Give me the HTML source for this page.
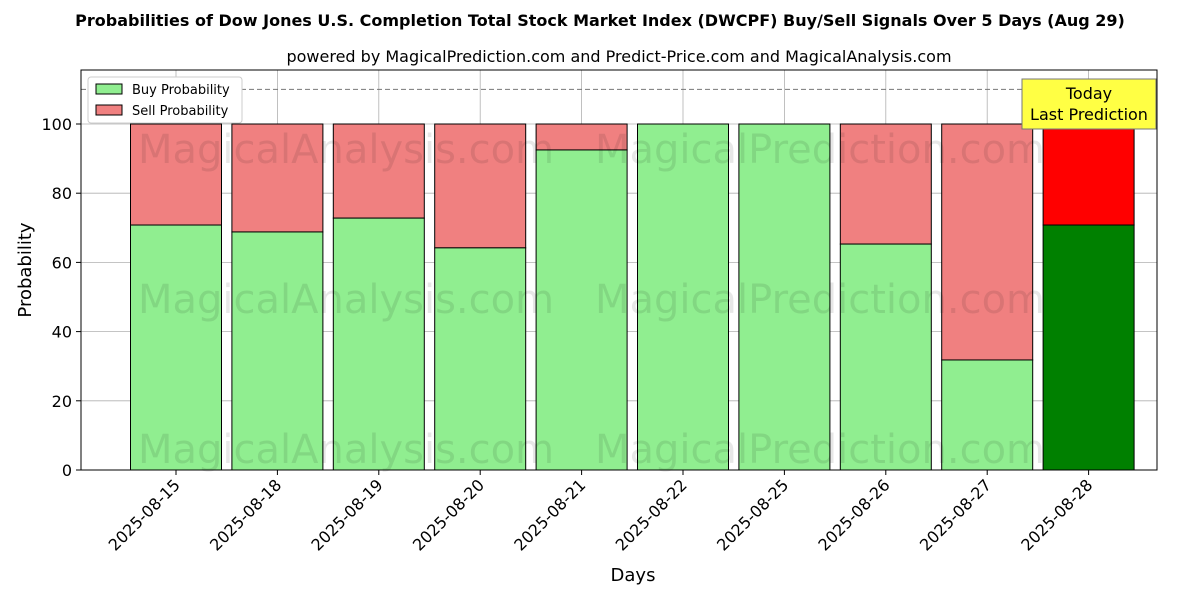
<!DOCTYPE html>
<html><head><meta charset="utf-8"><style>
body{margin:0;background:#fff;font-family:"DejaVu Sans","Liberation Sans",sans-serif;}
</style></head><body>
<svg id="chart" width="1200" height="600" xmlns="http://www.w3.org/2000/svg">
<text x="600" y="26" text-anchor="middle" font-size="16" font-weight="bold">Probabilities of Dow Jones U.S. Completion Total Stock Market Index (DWCPF) Buy/Sell Signals Over 5 Days (Aug 29)</text>
<text x="619" y="62" text-anchor="middle" font-size="16">powered by MagicalPrediction.com and Predict-Price.com and MagicalAnalysis.com</text>
<g id="grid"></g>
<g id="bars"></g>
<g id="wm" font-size="40" fill="#000" opacity="0.09" text-anchor="middle">
<text x="346" y="163">MagicalAnalysis.com</text><text x="820" y="163">MagicalPrediction.com</text>
<text x="346" y="313">MagicalAnalysis.com</text><text x="820" y="313">MagicalPrediction.com</text>
<text x="346" y="463">MagicalAnalysis.com</text><text x="820" y="463">MagicalPrediction.com</text>
</g>
<line x1="81" y1="89.4" x2="1157" y2="89.4" stroke="#777" stroke-dasharray="5,3"/>
<rect x="81" y="70" width="1076" height="400" fill="none" stroke="#000"/>
<g id="ticks"></g>
<text x="633" y="581" text-anchor="middle" font-size="18">Days</text>
<text transform="translate(31,270) rotate(-90)" text-anchor="middle" font-size="18">Probability</text>
<g>
<rect x="88" y="77" width="154" height="46" fill="#fff" stroke="#ccc" rx="3"/>
<rect x="96" y="84" width="26" height="10" fill="#90ee90" stroke="#000"/>
<text x="132" y="94" font-size="13">Buy Probability</text>
<rect x="96" y="105" width="26" height="10" fill="#f08080" stroke="#000"/>
<text x="132" y="115" font-size="13">Sell Probability</text>
</g>
<g>
<rect x="1022" y="79" width="134" height="50" fill="#ffff44" stroke="#777"/>
<text x="1089" y="99" text-anchor="middle" font-size="16">Today</text>
<text x="1089" y="120" text-anchor="middle" font-size="16">Last Prediction</text>
</g>
</svg>
<script>
const categories=["2025-08-15","2025-08-18","2025-08-19","2025-08-20","2025-08-21","2025-08-22","2025-08-25","2025-08-26","2025-08-27","2025-08-28"];
const buyValues=[70.8,68.8,72.8,64.2,92.5,100,100,65.3,31.8,70.8];
const yTicks=[0,20,40,60,80,100];
const NS="http://www.w3.org/2000/svg";
const yS=v=>470-v*3.46;
const xS=i=>176+101.4*i;
const bw=91;
function mk(tag,attrs,parent){const e=document.createElementNS(NS,tag);for(const k in attrs)e.setAttribute(k,attrs[k]);parent.appendChild(e);return e;}
const grid=document.getElementById('grid'),bars=document.getElementById('bars'),ticks=document.getElementById('ticks');
yTicks.forEach(t=>{
 const g=mk('line',{x1:81,x2:1157,y1:yS(t),y2:yS(t),stroke:'#b0b0b0','stroke-width':0.8},grid);
 
 
 mk('line',{x1:76,x2:81,y1:yS(t),y2:yS(t),stroke:'#000'},ticks);
 const tx=mk('text',{x:72,y:yS(t)+6,'text-anchor':'end','font-size':16},ticks);
 tx.textContent=t;
 
 
});
categories.forEach((c,i)=>{
 const x=xS(i);
 const gl=mk('line',{x1:x,x2:x,y1:70,y2:470,stroke:'#b0b0b0','stroke-width':0.8},grid);
 
 
 const last=i===categories.length-1;
 const b=buyValues[i];
 const sb=mk('rect',{x:x-bw/2,y:yS(100),width:bw,height:yS(b)-yS(100),fill:last?'#ff0000':'#f08080',stroke:'#000'},bars);
 
 
 const bb=mk('rect',{x:x-bw/2,y:yS(b),width:bw,height:yS(0)-yS(b),fill:last?'#008000':'#90ee90',stroke:'#000'},bars);
 
 
 mk('line',{x1:x,x2:x,y1:470,y2:475,stroke:'#000'},ticks);
 const t=mk('text',{x:0,y:0,'text-anchor':'end','font-size':16,transform:`translate(${x+5},${486}) rotate(-45)`},ticks);
 t.textContent=c;
 
 
});
</script>
</body></html>
